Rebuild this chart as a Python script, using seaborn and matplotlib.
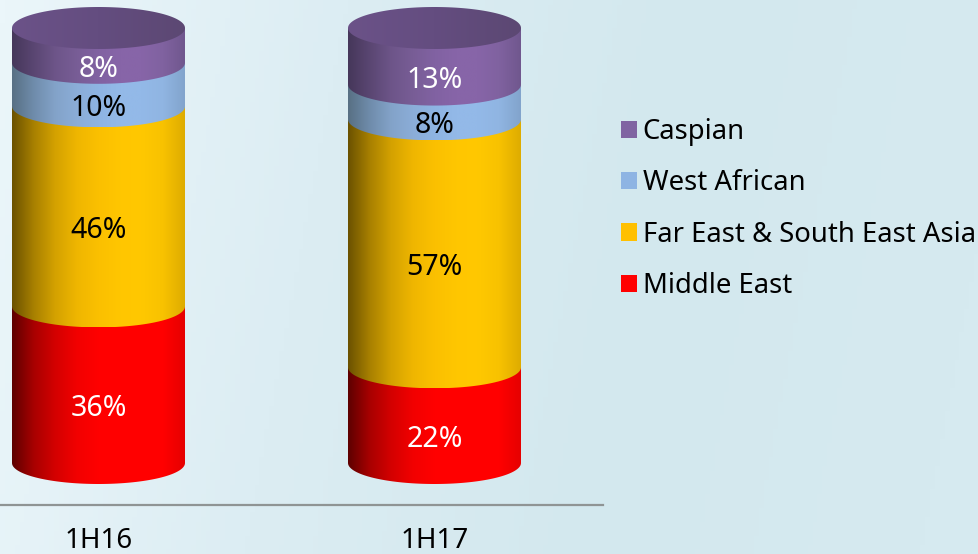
import numpy as np
import pandas as pd
import matplotlib
matplotlib.use("Agg")
import matplotlib.pyplot as plt
import seaborn as sns
from matplotlib.colors import LinearSegmentedColormap
from matplotlib.patches import Patch
from matplotlib.path import Path

periods = ["1H16", "1H17"]
middle_east = [36, 22]
far_east = [46, 57]
west_african = [10, 8]
caspian = [8, 13]
series_names = ["Middle East", "Far East & South East Asia", "West African", "Caspian"]
series_values = [middle_east, far_east, west_african, caspian]
series_colors = ["#FF0000", "#FFC000", "#8EB4E3", "#8064A2"]
label_colors = ["white", "black", "black", "white"]

W, H = 979, 554
BAR_WIDTH = 173 / 336
BASE_PX = 463
PX_PER_PCT = 4.35
RY_PX = 21
RY = RY_PX / PX_PER_PCT
LABEL_SHIFT = 3 / PX_PER_PCT

# shading across a cylinder, dark left edge to bright right of centre
shades = {
    "#FF0000": ["#5e0000", "#a80000", "#d40000", "#f20000", "#ff0000", "#ff0000", "#ff0000", "#ff0000", "#e60000"],
    "#FFC000": ["#6b5200", "#a88000", "#d4a200", "#efb600", "#fbc000", "#ffc600", "#ffc800", "#f8c200", "#deac00"],
    "#8EB4E3": ["#587084", "#6f8cab", "#83a3c9", "#8badd8", "#8eb4e3", "#93b9e8", "#93b9e8", "#90b5e2", "#82a4cc"],
    "#8064A2": ["#46375a", "#5a4672", "#6d5589", "#785d96", "#8162a2", "#8765a8", "#8765a8", "#8062a0", "#70578e"],
}

sns.set_theme(style="white")
plt.rcParams["font.family"] = ["Noto Sans", "DejaVu Sans"]

fig = plt.figure(figsize=(W / 100, H / 100), dpi=100)

# page background
bg = fig.add_axes([0, 0, 1, 1], zorder=-1)
gx, gy = np.meshgrid(np.linspace(0, 1, 200), np.linspace(0, 1, 120))
t = np.clip(gx * 0.95 + gy * 0.1, 0, 1)
bg_cmap = LinearSegmentedColormap.from_list("bg", ["#ebf6fa", "#dcedf3", "#d3e8ee", "#d6eaf0"])
bg.imshow(t, cmap=bg_cmap, aspect="auto", vmin=0, vmax=1)
bg.axis("off")

ax = fig.add_axes([-69.5 / W, (H - 505) / H, 672 / W, 505 / H])
ax.patch.set_alpha(0)

bottoms = np.zeros(len(periods))
for i, (name, vals, col) in enumerate(zip(series_names, series_values, series_colors)):
    df = pd.DataFrame({"period": periods, "value": vals})
    n_before = len(ax.patches)
    sns.barplot(data=df, x="period", y="value", order=periods, color=col, saturation=1,
                width=BAR_WIDTH, bottom=bottoms, ax=ax, zorder=2 + i)
    cmap = LinearSegmentedColormap.from_list(name, shades[col])
    for j, bar in enumerate(ax.patches[n_before:]):
        bar.set_visible(False)
        x0, w = bar.get_x(), bar.get_width()
        y0, y1 = bar.get_y(), bar.get_y() + bar.get_height()
        cx = x0 + w / 2
        theta = np.linspace(np.pi, 2 * np.pi, 80)
        arc = np.column_stack([cx + w / 2 * np.cos(theta), y0 + RY * np.sin(theta)])
        verts = np.vstack([[[x0, y1]], arc, [[x0 + w, y1]], [[x0, y1]]])
        im = ax.imshow(np.linspace(0, 1, 256)[None, :], extent=[x0, x0 + w, y0 - RY, y1],
                       cmap=cmap, aspect="auto", zorder=2 + i, interpolation="bilinear")
        im.set_clip_path(Path(verts, closed=True), ax.transData)
        ax.text(cx, (y0 + y1) / 2 - RY - LABEL_SHIFT, f"{vals[j]}%", ha="center", va="center",
                color=label_colors[i], fontsize=20.5, zorder=20)
        # lid on the top of the stack
        if i == len(series_names) - 1:
            theta = np.linspace(0, 2 * np.pi, 160)
            lid = np.column_stack([cx + w / 2 * np.cos(theta), y1 + RY * np.sin(theta)])
            lid_cmap = LinearSegmentedColormap.from_list("lid", ["#6b5288", "#644d80", "#5c4873"])
            im = ax.imshow(np.linspace(0, 1, 64)[None, :], extent=[x0, x0 + w, y1 - RY, y1 + RY],
                           cmap=lid_cmap, aspect="auto", zorder=10, interpolation="bilinear")
            im.set_clip_path(Path(lid, closed=True), ax.transData)
    bottoms = bottoms + np.array(vals)

ax.set_xlim(-0.5, 1.5)
ax.set_ylim(-(505 - BASE_PX) / PX_PER_PCT, BASE_PX / PX_PER_PCT)
ax.set_xlabel("")
ax.set_ylabel("")
ax.set_yticks([])
ax.set_xticks(range(len(periods)), periods)
ax.tick_params(axis="x", length=0, pad=15.5, labelsize=20, labelcolor="black")
for s in ["top", "left", "right"]:
    ax.spines[s].set_visible(False)
ax.spines["bottom"].set_color("#8f9494")
ax.spines["bottom"].set_linewidth(1.6)

handles = [Patch(facecolor=c, edgecolor="none", label=n)
           for n, c in zip(series_names[::-1], series_colors[::-1])]
fig.legend(handles=handles, loc="upper left", bbox_to_anchor=(621 / W, 1 - 118 / H),
           frameon=False, fontsize=19.8, handlelength=0.59, handleheight=0.59,
           handletextpad=0.2, labelspacing=0.85, borderpad=0, borderaxespad=0,
           labelcolor="black")

fig.savefig("out.png", dpi=100)
